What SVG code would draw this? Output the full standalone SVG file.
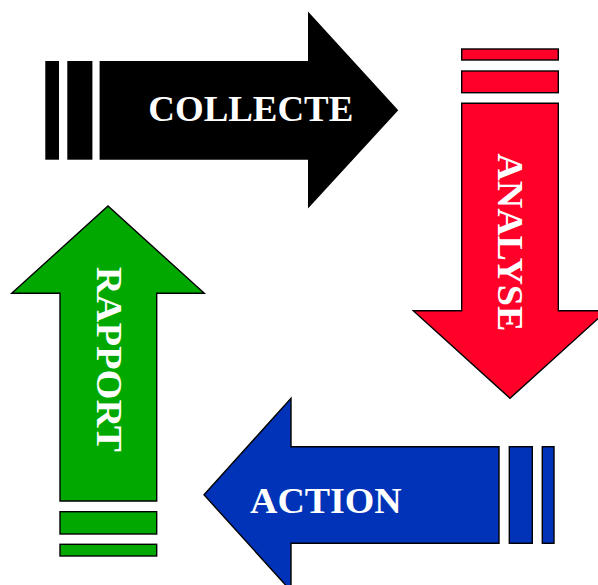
<svg xmlns="http://www.w3.org/2000/svg" width="598" height="585" viewBox="0 0 598 585">
  <style>
    .shape { stroke: #000; stroke-width: 1.4; stroke-linejoin: miter; }
    .black { fill: #000; }
    .red { fill: #FF0029; }
    .blue { fill: #0033B8; }
    .green { fill: #00A800; }
    .label { font-family: "Liberation Serif", "Times New Roman", serif; font-weight: bold; font-size: 36px; fill: #fff; }
  </style>
  <rect width="598" height="585" fill="#fff"/>

  <g id="collecte">
    <rect class="shape black" x="46" y="61.7" width="12.3" height="97.3"/>
    <rect class="shape black" x="68" y="61.7" width="23.7" height="97.3"/>
    <polygon class="shape black" points="100.3,61.7 308.7,61.7 308.7,13.3 397.3,110.3 308.7,206.7 308.7,159 100.3,159"/>
    <text class="label" x="148.3" y="121" textLength="205" lengthAdjust="spacingAndGlyphs">COLLECTE</text>
  </g>

  <g id="analyse">
    <rect class="shape red" x="461.7" y="49" width="96.6" height="11"/>
    <rect class="shape red" x="461.7" y="71" width="96.6" height="21.7"/>
    <polygon class="shape red" points="461.7,103.3 558.3,103.3 558.3,310.7 606.7,310.7 510,398.3 413.3,310.7 461.7,310.7"/>
    <text class="label" transform="translate(497.7,153.3) rotate(90)" x="0" y="0" textLength="178" lengthAdjust="spacingAndGlyphs">ANALYSE</text>
  </g>

  <g id="action">
    <rect class="shape blue" x="509.3" y="446.7" width="23" height="96.6"/>
    <rect class="shape blue" x="542.3" y="446.7" width="11.7" height="96.6"/>
    <polygon class="shape blue" points="499,446.7 291,446.7 291,398.3 204,494.8 291,591 291,543.3 499,543.3"/>
    <text class="label" x="250" y="513.3" textLength="151.7" lengthAdjust="spacingAndGlyphs">ACTION</text>
  </g>

  <g id="rapport">
    <rect class="shape green" x="60" y="511.7" width="96.7" height="22.3"/>
    <rect class="shape green" x="60" y="544.3" width="96.7" height="11.7"/>
    <polygon class="shape green" points="60,501 60,293.3 11.7,293.3 108,206 204.3,293.3 156.7,293.3 156.7,501"/>
    <text class="label" transform="translate(96.7,266.7) rotate(90)" x="0" y="0" textLength="185" lengthAdjust="spacingAndGlyphs">RAPPORT</text>
  </g>

  <g id="connectors"></g>
</svg>
